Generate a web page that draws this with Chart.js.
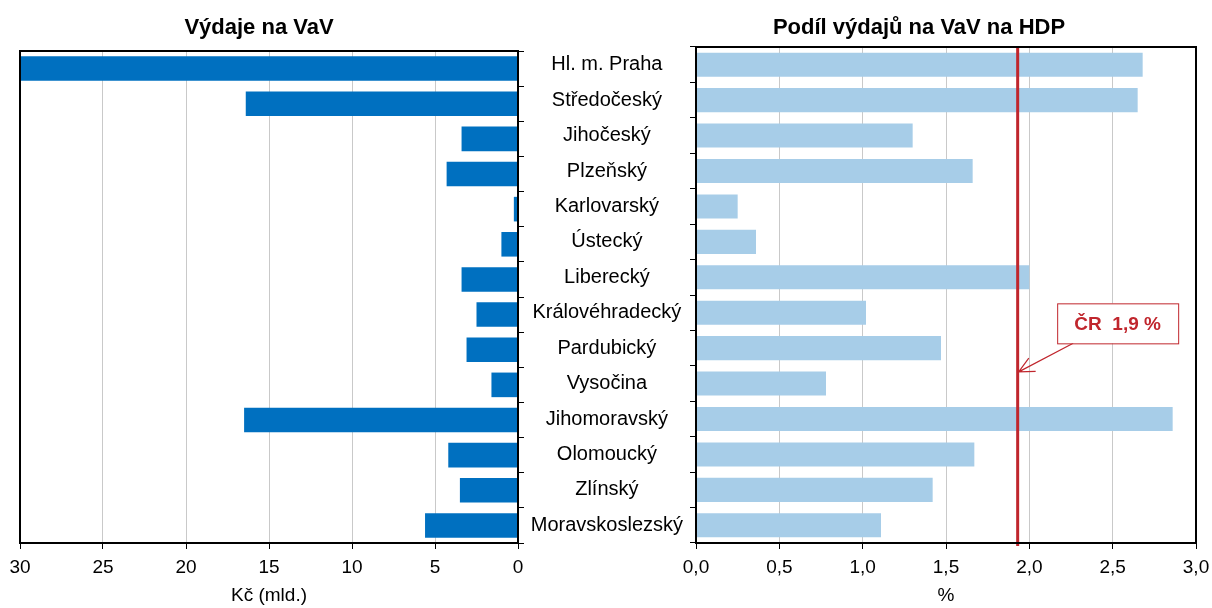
<!DOCTYPE html>
<html lang="cs">
<head>
<meta charset="utf-8">
<title>Výdaje na VaV podle krajů</title>
<script src="https://cdn.jsdelivr.net/npm/chart.js@4.4.1/dist/chart.umd.min.js"></script>
<style>
  html, body { margin: 0; padding: 0; background: #fff; }
  #wrap { position: relative; width: 1212px; height: 608px; overflow: hidden; }
  canvas { position: absolute; top: 0; }
  #leftChart { left: 0; }
  #rightChart { left: 520px; }
</style>
</head>
<body>
<div id="wrap">
  <canvas id="leftChart" width="540" height="608"></canvas>
  <canvas id="rightChart" width="692" height="608"></canvas>
</div>
<script>
// Data
const regions = [
  'Hl. m. Praha', 'Středočeský', 'Jihočeský', 'Plzeňský', 'Karlovarský',
  'Ústecký', 'Liberecký', 'Královéhradecký', 'Pardubický', 'Vysočina',
  'Jihomoravský', 'Olomoucký', 'Zlínský', 'Moravskoslezský'
];
// Kč (mld.) - Praha runs past the axis end
const spendingBn = [31, 16.4, 3.4, 4.3, 0.25, 1.0, 3.4, 2.5, 3.1, 1.6, 16.5, 4.2, 3.5, 5.6];
// % of regional GDP
const gdpShare = [2.68, 2.65, 1.30, 1.66, 0.25, 0.36, 2.00, 1.02, 1.47, 0.78, 2.86, 1.67, 1.42, 1.11];
const crAverage = 1.93;
const crLabel = 'ČR  1,9 %';

const ticksKc = [0, 5, 10, 15, 20, 25, 30];
const ticksPct = [0, 0.5, 1, 1.5, 2, 2.5, 3];

const FONT = '"Liberation Sans", Arial, sans-serif';
const RED = '#c0262d';
const GRID = '#c9c9c9';

Chart.defaults.font.family = FONT;
Chart.defaults.font.size = 19;
Chart.defaults.color = '#000';

// title drawn at a fixed spot so it does not move the plot area
const panelTitle = {
  id: 'panelTitle',
  afterDraw(chart, args, opts) {
    const ctx = chart.ctx;
    ctx.save();
    ctx.font = 'bold 22px ' + FONT;
    ctx.fillStyle = '#000';
    ctx.textAlign = 'center';
    ctx.textBaseline = 'alphabetic';
    ctx.fillText(opts.text, opts.x, opts.y);
    ctx.restore();
  }
};

// black box around the plot area
const frame = {
  id: 'frame',
  afterDraw(chart) {
    const { ctx, chartArea: a } = chart;
    ctx.save();
    ctx.strokeStyle = '#000';
    ctx.lineWidth = 2;
    ctx.strokeRect(a.left, a.top, a.right - a.left, a.bottom - a.top);
    ctx.restore();
  }
};

// national average line with its callout
const crMarker = {
  id: 'crMarker',
  afterDatasetsDraw(chart, args, opts) {
    const { ctx, chartArea: a, scales: { x, y } } = chart;
    const lx = x.getPixelForValue(opts.value);
    ctx.save();
    ctx.strokeStyle = RED;
    ctx.lineWidth = 3;
    ctx.beginPath();
    ctx.moveTo(lx, a.top);
    ctx.lineTo(lx, a.bottom + 3);
    ctx.stroke();

    const bx = x.getPixelForValue(opts.boxAt[0]);
    const by = y.getPixelForValue(opts.boxAt[1]);
    const w = 121, h = 40;
    const sx = bx - w / 2 + 16, sy = by + h / 2;
    const tx = lx + 1, ty = y.getPixelForValue(opts.tipAt);

    // arrow
    ctx.lineWidth = 1.2;
    ctx.beginPath();
    ctx.moveTo(sx, sy);
    ctx.lineTo(tx, ty);
    const ang = Math.atan2(ty - sy, tx - sx);
    const len = 17, spread = 0.45;
    ctx.moveTo(tx - len * Math.cos(ang - spread), ty - len * Math.sin(ang - spread));
    ctx.lineTo(tx, ty);
    ctx.lineTo(tx - len * Math.cos(ang + spread), ty - len * Math.sin(ang + spread));
    ctx.stroke();

    // box
    ctx.fillStyle = '#fff';
    ctx.fillRect(bx - w / 2, by - h / 2, w, h);
    ctx.lineWidth = 1;
    ctx.strokeRect(bx - w / 2 + 0.5, by - h / 2 + 0.5, w, h);
    ctx.fillStyle = RED;
    ctx.font = 'bold 19px ' + FONT;
    ctx.textAlign = 'center';
    ctx.textBaseline = 'middle';
    ctx.fillText(opts.text, bx, by + 1);
    ctx.restore();
  }
};

// Left: spending, reversed axis
new Chart(document.getElementById('leftChart'), {
  type: 'bar',
  data: {
    labels: regions,
    datasets: [{
      data: spendingBn,
      backgroundColor: '#0070c0',
      categoryPercentage: 1,
      barPercentage: 0.7
    }]
  },
  options: {
    indexAxis: 'y',
    responsive: false,
    animation: false,
    layout: { padding: { top: 51, left: 20, right: 0, bottom: 0 } },
    plugins: {
      legend: { display: false },
      tooltip: { enabled: false },
      panelTitle: { text: 'Výdaje na VaV', x: 259, y: 34 }
    },
    scales: {
      x: {
        reverse: true,
        min: 0,
        max: 30,
        afterBuildTicks: s => { s.ticks = ticksKc.map(v => ({ value: v })); },
        afterFit: s => { s.height = 65; },
        grid: { color: GRID, tickColor: '#000', tickLength: 6 },
        border: { color: '#000', width: 2 },
        ticks: { padding: 7, maxRotation: 0 },
        title: { display: true, text: 'Kč (mld.)', padding: { top: 0, bottom: 1 } }
      },
      y: {
        position: 'right',
        afterFit: s => { s.width = 22; },
        grid: { drawOnChartArea: false, tickColor: '#000', tickLength: 6 },
        border: { color: '#000', width: 2 },
        ticks: { display: false }
      }
    }
  },
  plugins: [panelTitle, frame]
});

// Right: share of GDP, region names on its axis
new Chart(document.getElementById('rightChart'), {
  type: 'bar',
  data: {
    labels: regions,
    datasets: [{
      data: gdpShare,
      backgroundColor: '#a7cde8',
      categoryPercentage: 1,
      barPercentage: 0.68
    }]
  },
  options: {
    indexAxis: 'y',
    responsive: false,
    animation: false,
    layout: { padding: { top: 47, left: 0, right: 16, bottom: 0 } },
    plugins: {
      legend: { display: false },
      tooltip: { enabled: false },
      panelTitle: { text: 'Podíl výdajů na VaV na HDP', x: 399, y: 34 },
      crMarker: { value: crAverage, text: crLabel, boxAt: [2.53, 7.3], tipAt: 8.67 }
    },
    scales: {
      x: {
        min: 0,
        max: 3,
        afterBuildTicks: s => { s.ticks = ticksPct.map(v => ({ value: v })); },
        // keep the last tick label from squeezing the plot
        afterFit: s => { s.height = 65; s.paddingRight = 0; },
        grid: { color: GRID, tickColor: '#000', tickLength: 6 },
        border: { color: '#000', width: 2 },
        ticks: { padding: 7, maxRotation: 0, callback: v => v.toFixed(1).replace('.', ',') },
        title: { display: true, text: '%', padding: { top: 0, bottom: 1 } }
      },
      y: {
        position: 'left',
        afterFit: s => { s.width = 176; },
        grid: { drawOnChartArea: false, tickColor: '#000', tickLength: 6 },
        border: { color: '#000', width: 2 },
        ticks: { crossAlign: 'center', padding: 7, font: { size: 20 } }
      }
    }
  },
  plugins: [panelTitle, frame, crMarker]
});
</script>
</body>
</html>
